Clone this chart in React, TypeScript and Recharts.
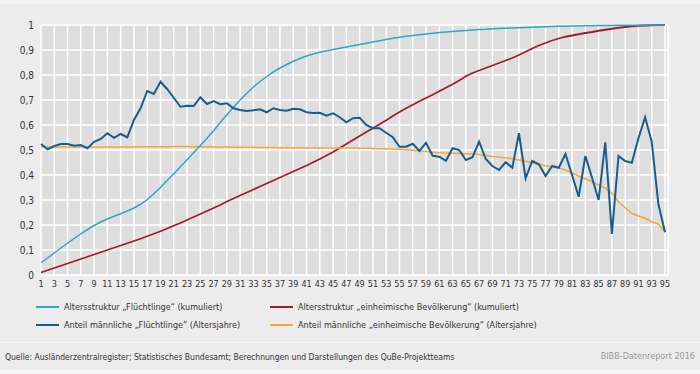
import { LineChart, Line, XAxis, YAxis, CartesianGrid } from "recharts";

const ages = Array.from({ length: 95 }, (_, i) => i + 1);
const xTicks = ages.filter((a) => a % 2 === 1);
const yTicks = [0, 0.1, 0.2, 0.3, 0.4, 0.5, 0.6, 0.7, 0.8, 0.9, 1];

// Altersstruktur „Flüchtlinge" (kumuliert)
const fluechtlingeKum = [
  0.05, 0.068, 0.088, 0.108, 0.127, 0.146, 0.165, 0.182, 0.198, 0.212,
  0.224, 0.235, 0.245, 0.256, 0.268, 0.283, 0.302, 0.325, 0.35, 0.378,
  0.405, 0.433, 0.461, 0.49, 0.518, 0.547, 0.577, 0.61, 0.641, 0.671,
  0.7, 0.727, 0.752, 0.774, 0.794, 0.812, 0.828, 0.842, 0.855, 0.866,
  0.876, 0.884, 0.891, 0.897, 0.902, 0.907, 0.912, 0.917, 0.922, 0.927,
  0.932, 0.937, 0.942, 0.947, 0.951, 0.955, 0.958, 0.961, 0.964, 0.967,
  0.97, 0.972, 0.974, 0.976, 0.978, 0.98, 0.982, 0.983, 0.985, 0.986,
  0.987, 0.988, 0.989, 0.99, 0.991, 0.992, 0.993, 0.994, 0.995, 0.995,
  0.996, 0.996, 0.997, 0.997, 0.998, 0.998, 0.998, 0.999, 0.999, 0.999,
  0.999, 1, 1, 1, 1,
];

// Altersstruktur „einheimische Bevölkerung" (kumuliert)
const einheimischKum = [
  0.01, 0.019, 0.028, 0.037, 0.046, 0.055, 0.064, 0.073, 0.082, 0.091,
  0.1, 0.109, 0.118, 0.127, 0.136, 0.145, 0.155, 0.165, 0.175, 0.186,
  0.197, 0.208, 0.22, 0.232, 0.244, 0.256, 0.268, 0.28, 0.294, 0.306,
  0.318, 0.33, 0.342, 0.354, 0.366, 0.378, 0.39, 0.402, 0.414, 0.426,
  0.438, 0.451, 0.464, 0.478, 0.492, 0.508, 0.524, 0.54, 0.556, 0.572,
  0.587, 0.603, 0.619, 0.636, 0.652, 0.667, 0.681, 0.695, 0.708, 0.721,
  0.735, 0.749, 0.763, 0.778, 0.795, 0.808, 0.818, 0.828, 0.838, 0.848,
  0.858, 0.868, 0.88, 0.893, 0.906, 0.918, 0.928, 0.938, 0.946, 0.953,
  0.958, 0.963, 0.968, 0.972, 0.977, 0.981, 0.985, 0.989, 0.992, 0.995,
  0.997, 0.998, 0.999, 1, 1,
];

// Anteil männliche „Flüchtlinge" (Altersjahre)
const fluechtlingeMaennlich = [
  0.524, 0.503, 0.516, 0.524, 0.524, 0.517, 0.52, 0.507, 0.533, 0.544,
  0.567, 0.549, 0.564, 0.551, 0.62, 0.667, 0.736, 0.724, 0.773, 0.744,
  0.709, 0.673, 0.677, 0.676, 0.711, 0.684, 0.696, 0.683, 0.687, 0.667,
  0.66, 0.656, 0.659, 0.663, 0.651, 0.667, 0.66, 0.657, 0.665, 0.663,
  0.651, 0.648, 0.649, 0.637, 0.647, 0.631, 0.611, 0.627, 0.629, 0.6,
  0.587, 0.587, 0.569, 0.551, 0.513, 0.513, 0.525, 0.496, 0.529, 0.477,
  0.473, 0.457, 0.507, 0.5, 0.46, 0.471, 0.533, 0.464, 0.436, 0.42,
  0.451, 0.429, 0.567, 0.387, 0.456, 0.443, 0.396, 0.436, 0.429, 0.484,
  0.4, 0.313, 0.476, 0.39, 0.3, 0.531, 0.164, 0.476, 0.456, 0.449,
  0.547, 0.631, 0.533, 0.284, 0.171,
];

// Anteil männliche „einheimische Bevölkerung" (Altersjahre)
const einheimischMaennlich = [
  0.513, 0.512, 0.512, 0.512, 0.512, 0.512, 0.512, 0.512, 0.512, 0.512,
  0.512, 0.512, 0.512, 0.512, 0.512, 0.513, 0.513, 0.513, 0.513, 0.513,
  0.514, 0.514, 0.514, 0.513, 0.513, 0.513, 0.512, 0.512, 0.512, 0.511,
  0.511, 0.511, 0.511, 0.51, 0.51, 0.51, 0.509, 0.509, 0.509, 0.509,
  0.508, 0.508, 0.508, 0.508, 0.508, 0.508, 0.508, 0.508, 0.507, 0.507,
  0.506, 0.505, 0.505, 0.504, 0.503, 0.501, 0.499, 0.497, 0.494, 0.491,
  0.489, 0.488, 0.487, 0.486, 0.485, 0.484, 0.482, 0.478, 0.474, 0.471,
  0.469, 0.465, 0.46, 0.455, 0.449, 0.443, 0.437, 0.433, 0.427, 0.42,
  0.408, 0.396, 0.385, 0.373, 0.36, 0.347, 0.327, 0.293, 0.269, 0.247,
  0.236, 0.227, 0.213, 0.204, 0.173,
];

const seriesNames = [
  "Altersstruktur „Flüchtlinge“ (kumuliert)",
  "Altersstruktur „einheimische Bevölkerung“ (kumuliert)",
  "Anteil männliche „Flüchtlinge“ (Altersjahre)",
  "Anteil männliche „einheimische Bevölkerung“ (Altersjahre)",
];
const seriesColors = ["#2fa5ca", "#a51b2c", "#175e8e", "#f2a63b"];

const rows = ages.map((age, i) => ({
  age,
  fk: fluechtlingeKum[i],
  ek: einheimischKum[i],
  fm: fluechtlingeMaennlich[i],
  em: einheimischMaennlich[i],
}));

const font = "'DejaVu Sans Condensed', 'Roboto', sans-serif";
const fmt = (v: number) => String(Math.round(v * 10) / 10).replace(".", ",");

function LegendItem({ color, label, x, y }: { color: string; label: string; x: number; y: number }) {
  return (
    <div style={{ position: "absolute", left: x, top: y, display: "flex", alignItems: "center" }}>
      <div style={{ width: 23, height: 2, background: color, marginRight: 5 }} />
      <span style={{ fontSize: 9, color: "#333", whiteSpace: "nowrap" }}>{label}</span>
    </div>
  );
}

export default function App() {
  return (
    <div
      style={{
        position: "absolute",
        left: 0,
        top: 0,
        width: 700,
        height: 374,
        background: "#ececec",
        fontFamily: font,
        overflow: "hidden",
      }}
    >
      <div style={{ position: "absolute", left: 0, top: 0, width: 700, height: 4, background: "#f4f4f4" }} />
      <div style={{ position: "absolute", left: 0, top: 342, width: 700, height: 1, background: "#f6f6f6" }} />
      <div style={{ position: "absolute", left: 0, top: 370, width: 700, height: 4, background: "#f6f6f6" }} />
      <div style={{ position: "absolute", left: 0, top: 0 }}>
        <LineChart width={700} height={300} data={rows} margin={{ top: 25, right: 32, bottom: 5, left: 0 }}>
          <CartesianGrid stroke="#ffffff" strokeWidth={1.5} fill="#dedede" fillOpacity={1} />
          <XAxis
            dataKey="age"
            type="number"
            domain={[1, 95]}
            ticks={xTicks}
            interval={0}
            padding={{ left: 0, right: 3 }}
            axisLine={false}
            tickLine={false}
            tickSize={4}
            tickMargin={2}
            height={20}
            tick={{ fontSize: 9, fill: "#333", fontFamily: font }}
          />
          <YAxis
            type="number"
            domain={[0, 1]}
            ticks={yTicks}
            interval={0}
            width={41}
            axisLine={false}
            tickLine={false}
            tickSize={4}
            tickMargin={3}
            tickFormatter={fmt}
            tick={{ fontSize: 10, fill: "#333", fontFamily: font }}
          />
          <Line dataKey="ek" stroke={seriesColors[1]} strokeWidth={1.8} dot={false} isAnimationActive={false} />
          <Line dataKey="em" stroke={seriesColors[3]} strokeWidth={1.5} dot={false} isAnimationActive={false} />
          <Line dataKey="fk" stroke={seriesColors[0]} strokeWidth={1.5} dot={false} isAnimationActive={false} />
          <Line dataKey="fm" stroke={seriesColors[2]} strokeWidth={2} dot={false} isAnimationActive={false} />
        </LineChart>
      </div>
      <LegendItem color={seriesColors[0]} label={seriesNames[0]} x={36} y={302} />
      <LegendItem color={seriesColors[1]} label={seriesNames[1]} x={270} y={302} />
      <LegendItem color={seriesColors[2]} label={seriesNames[2]} x={36} y={320} />
      <LegendItem color={seriesColors[3]} label={seriesNames[3]} x={270} y={320} />
      <div style={{ position: "absolute", left: 5, top: 352, fontSize: 8.5, color: "#333", whiteSpace: "nowrap" }}>
        Quelle: Ausländerzentralregister; Statistisches Bundesamt; Berechnungen und Darstellungen des QuBe-Projektteams
      </div>
      <div style={{ position: "absolute", right: 5, top: 351, fontSize: 9, color: "#9a9a9a", whiteSpace: "nowrap" }}>
        BIBB-Datenreport 2016
      </div>
    </div>
  );
}
